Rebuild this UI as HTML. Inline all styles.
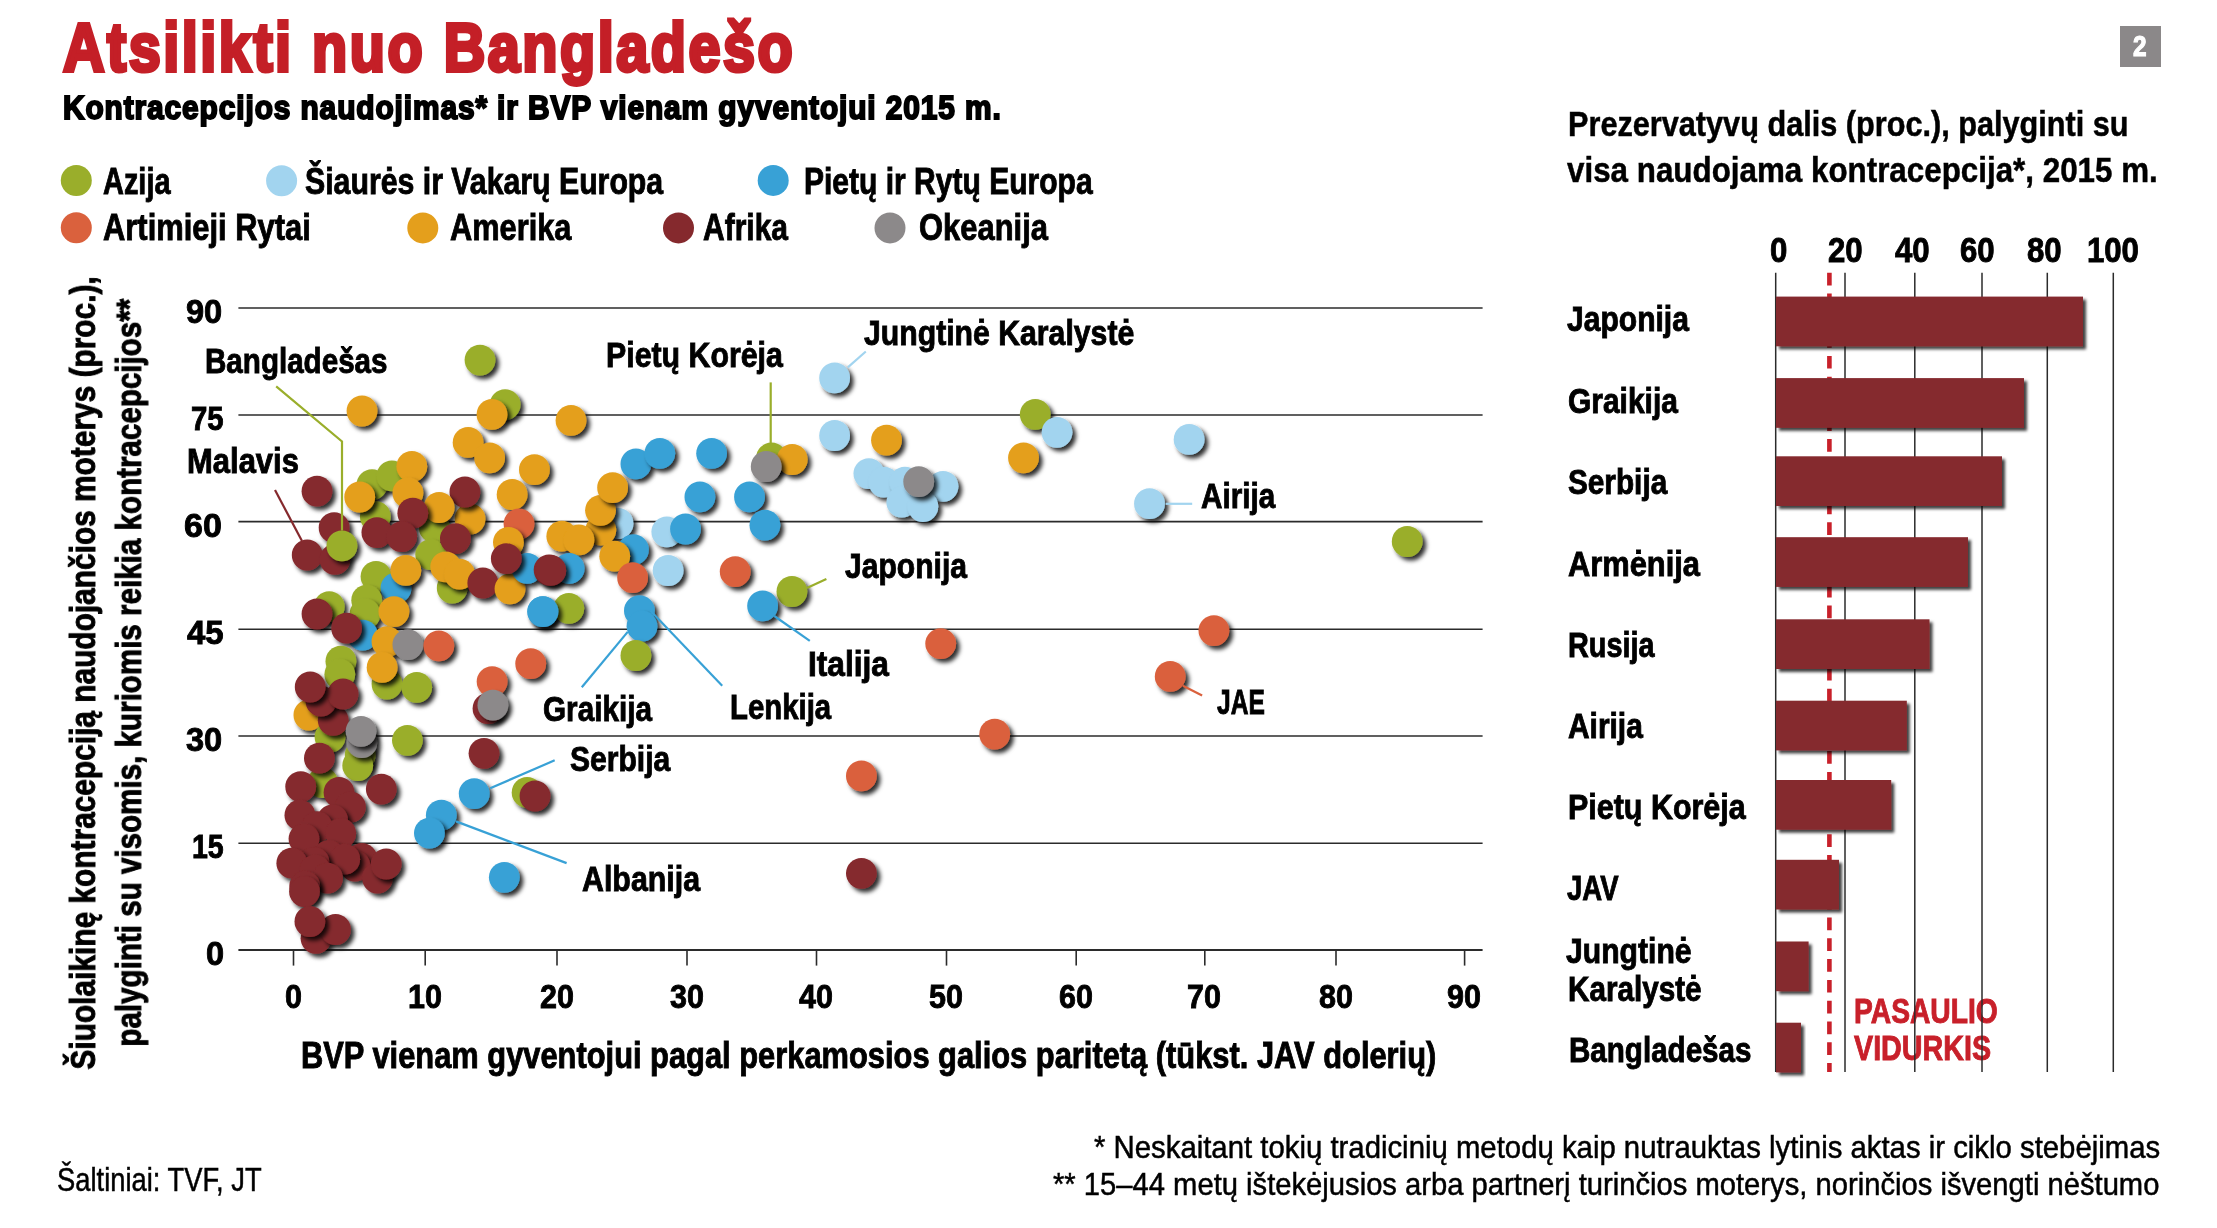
<!DOCTYPE html>
<html><head><meta charset="utf-8"><style>
html,body{margin:0;padding:0;background:#fff;}
body{width:2217px;height:1228px;position:relative;overflow:hidden;font-family:"Liberation Sans",sans-serif;}
.s{position:absolute;left:0;top:0;}
.t{position:absolute;white-space:nowrap;line-height:1;transform-origin:0 0;font-family:"Liberation Sans",sans-serif;font-weight:bold;}
</style></head><body>
<svg class="s" width="2217" height="1228"><defs><filter id="sh" x="-30%" y="-30%" width="170%" height="170%"><feDropShadow dx="3.6" dy="3.6" stdDeviation="2.2" flood-color="#000" flood-opacity="0.82"/></filter><filter id="bs" x="-10%" y="-30%" width="130%" height="170%"><feDropShadow dx="3" dy="3" stdDeviation="1.4" flood-color="#000" flood-opacity="0.75"/></filter></defs><line x1="238.4" y1="843.20" x2="1482.6" y2="843.20" stroke="#2b2b2b" stroke-width="1.6"/><line x1="238.4" y1="736.00" x2="1482.6" y2="736.00" stroke="#2b2b2b" stroke-width="1.6"/><line x1="238.4" y1="629.30" x2="1482.6" y2="629.30" stroke="#2b2b2b" stroke-width="1.6"/><line x1="238.4" y1="521.60" x2="1482.6" y2="521.60" stroke="#2b2b2b" stroke-width="1.6"/><line x1="238.4" y1="415.00" x2="1482.6" y2="415.00" stroke="#2b2b2b" stroke-width="1.6"/><line x1="238.4" y1="308.00" x2="1482.6" y2="308.00" stroke="#2b2b2b" stroke-width="1.6"/><line x1="238.4" y1="950" x2="1482.6" y2="950" stroke="#2b2b2b" stroke-width="1.8"/><line x1="293.50" y1="950" x2="293.50" y2="965.6" stroke="#2b2b2b" stroke-width="1.6"/><line x1="425.20" y1="950" x2="425.20" y2="965.6" stroke="#2b2b2b" stroke-width="1.6"/><line x1="557.00" y1="950" x2="557.00" y2="965.6" stroke="#2b2b2b" stroke-width="1.6"/><line x1="687.00" y1="950" x2="687.00" y2="965.6" stroke="#2b2b2b" stroke-width="1.6"/><line x1="816.50" y1="950" x2="816.50" y2="965.6" stroke="#2b2b2b" stroke-width="1.6"/><line x1="946.50" y1="950" x2="946.50" y2="965.6" stroke="#2b2b2b" stroke-width="1.6"/><line x1="1076.20" y1="950" x2="1076.20" y2="965.6" stroke="#2b2b2b" stroke-width="1.6"/><line x1="1204.80" y1="950" x2="1204.80" y2="965.6" stroke="#2b2b2b" stroke-width="1.6"/><line x1="1336.00" y1="950" x2="1336.00" y2="965.6" stroke="#2b2b2b" stroke-width="1.6"/><line x1="1464.60" y1="950" x2="1464.60" y2="965.6" stroke="#2b2b2b" stroke-width="1.6"/><circle cx="76.30" cy="180.50" r="15.5" fill="#9aae2b"/><circle cx="281.60" cy="180.80" r="15.5" fill="#a2d4ef"/><circle cx="773.20" cy="180.40" r="15.5" fill="#38a1d6"/><circle cx="76.30" cy="227.80" r="15.5" fill="#da613d"/><circle cx="422.80" cy="227.90" r="15.5" fill="#e49f1c"/><circle cx="678.50" cy="227.90" r="15.5" fill="#85292d"/><circle cx="890.00" cy="227.90" r="15.5" fill="#8c898a"/><circle cx="480.00" cy="360.10" r="15.4" fill="#9aae2b" filter="url(#sh)"/><circle cx="362.00" cy="411.00" r="15.4" fill="#e49f1c" filter="url(#sh)"/><circle cx="505.10" cy="404.60" r="15.4" fill="#9aae2b" filter="url(#sh)"/><circle cx="492.00" cy="414.40" r="15.4" fill="#e49f1c" filter="url(#sh)"/><circle cx="468.10" cy="442.40" r="15.4" fill="#e49f1c" filter="url(#sh)"/><circle cx="489.60" cy="457.80" r="15.4" fill="#e49f1c" filter="url(#sh)"/><circle cx="534.40" cy="469.70" r="15.4" fill="#e49f1c" filter="url(#sh)"/><circle cx="317.00" cy="491.20" r="15.4" fill="#85292d" filter="url(#sh)"/><circle cx="372.00" cy="484.70" r="15.4" fill="#9aae2b" filter="url(#sh)"/><circle cx="391.90" cy="475.80" r="15.4" fill="#9aae2b" filter="url(#sh)"/><circle cx="411.80" cy="466.50" r="15.4" fill="#e49f1c" filter="url(#sh)"/><circle cx="375.30" cy="516.50" r="15.4" fill="#9aae2b" filter="url(#sh)"/><circle cx="359.70" cy="497.00" r="15.4" fill="#e49f1c" filter="url(#sh)"/><circle cx="407.90" cy="492.90" r="15.4" fill="#e49f1c" filter="url(#sh)"/><circle cx="470.00" cy="519.00" r="15.4" fill="#e49f1c" filter="url(#sh)"/><circle cx="464.90" cy="492.00" r="15.4" fill="#85292d" filter="url(#sh)"/><circle cx="512.10" cy="494.50" r="15.4" fill="#e49f1c" filter="url(#sh)"/><circle cx="434.30" cy="527.70" r="15.4" fill="#9aae2b" filter="url(#sh)"/><circle cx="439.10" cy="507.50" r="15.4" fill="#e49f1c" filter="url(#sh)"/><circle cx="412.80" cy="513.20" r="15.4" fill="#85292d" filter="url(#sh)"/><circle cx="519.00" cy="523.80" r="15.4" fill="#da613d" filter="url(#sh)"/><circle cx="571.00" cy="420.40" r="15.4" fill="#e49f1c" filter="url(#sh)"/><circle cx="635.90" cy="463.90" r="15.4" fill="#38a1d6" filter="url(#sh)"/><circle cx="659.80" cy="453.30" r="15.4" fill="#38a1d6" filter="url(#sh)"/><circle cx="711.60" cy="453.30" r="15.4" fill="#38a1d6" filter="url(#sh)"/><circle cx="771.50" cy="458.00" r="15.4" fill="#9aae2b" filter="url(#sh)"/><circle cx="792.20" cy="459.50" r="15.4" fill="#e49f1c" filter="url(#sh)"/><circle cx="766.20" cy="466.50" r="15.4" fill="#8c898a" filter="url(#sh)"/><circle cx="618.00" cy="523.50" r="15.4" fill="#a2d4ef" filter="url(#sh)"/><circle cx="600.80" cy="530.10" r="15.4" fill="#e49f1c" filter="url(#sh)"/><circle cx="600.50" cy="510.30" r="15.4" fill="#e49f1c" filter="url(#sh)"/><circle cx="612.60" cy="487.70" r="15.4" fill="#e49f1c" filter="url(#sh)"/><circle cx="699.90" cy="496.90" r="15.4" fill="#38a1d6" filter="url(#sh)"/><circle cx="749.50" cy="496.90" r="15.4" fill="#38a1d6" filter="url(#sh)"/><circle cx="334.10" cy="527.70" r="15.4" fill="#85292d" filter="url(#sh)"/><circle cx="307.20" cy="555.00" r="15.4" fill="#85292d" filter="url(#sh)"/><circle cx="334.90" cy="559.40" r="15.4" fill="#85292d" filter="url(#sh)"/><circle cx="341.90" cy="545.90" r="15.4" fill="#9aae2b" filter="url(#sh)"/><circle cx="376.90" cy="532.60" r="15.4" fill="#85292d" filter="url(#sh)"/><circle cx="401.70" cy="536.60" r="15.4" fill="#85292d" filter="url(#sh)"/><circle cx="430.70" cy="554.60" r="15.4" fill="#9aae2b" filter="url(#sh)"/><circle cx="455.40" cy="538.60" r="15.4" fill="#85292d" filter="url(#sh)"/><circle cx="452.20" cy="588.00" r="15.4" fill="#9aae2b" filter="url(#sh)"/><circle cx="445.70" cy="566.80" r="15.4" fill="#e49f1c" filter="url(#sh)"/><circle cx="459.50" cy="574.10" r="15.4" fill="#e49f1c" filter="url(#sh)"/><circle cx="482.80" cy="583.00" r="15.4" fill="#85292d" filter="url(#sh)"/><circle cx="510.00" cy="588.80" r="15.4" fill="#e49f1c" filter="url(#sh)"/><circle cx="508.40" cy="542.30" r="15.4" fill="#e49f1c" filter="url(#sh)"/><circle cx="527.10" cy="568.40" r="15.4" fill="#38a1d6" filter="url(#sh)"/><circle cx="506.30" cy="558.60" r="15.4" fill="#85292d" filter="url(#sh)"/><circle cx="549.10" cy="570.00" r="15.4" fill="#85292d" filter="url(#sh)"/><circle cx="542.60" cy="611.60" r="15.4" fill="#38a1d6" filter="url(#sh)"/><circle cx="376.00" cy="576.50" r="15.4" fill="#9aae2b" filter="url(#sh)"/><circle cx="396.00" cy="588.00" r="15.4" fill="#38a1d6" filter="url(#sh)"/><circle cx="405.80" cy="570.40" r="15.4" fill="#e49f1c" filter="url(#sh)"/><circle cx="366.70" cy="600.20" r="15.4" fill="#9aae2b" filter="url(#sh)"/><circle cx="365.00" cy="614.00" r="15.4" fill="#9aae2b" filter="url(#sh)"/><circle cx="393.90" cy="611.60" r="15.4" fill="#e49f1c" filter="url(#sh)"/><circle cx="329.20" cy="606.70" r="15.4" fill="#9aae2b" filter="url(#sh)"/><circle cx="317.00" cy="614.00" r="15.4" fill="#85292d" filter="url(#sh)"/><circle cx="362.60" cy="635.20" r="15.4" fill="#38a1d6" filter="url(#sh)"/><circle cx="346.60" cy="628.20" r="15.4" fill="#85292d" filter="url(#sh)"/><circle cx="387.00" cy="641.70" r="15.4" fill="#e49f1c" filter="url(#sh)"/><circle cx="407.90" cy="644.60" r="15.4" fill="#8c898a" filter="url(#sh)"/><circle cx="438.80" cy="645.80" r="15.4" fill="#da613d" filter="url(#sh)"/><circle cx="530.70" cy="663.70" r="15.4" fill="#da613d" filter="url(#sh)"/><circle cx="492.10" cy="681.60" r="15.4" fill="#da613d" filter="url(#sh)"/><circle cx="488.00" cy="708.50" r="15.4" fill="#85292d" filter="url(#sh)"/><circle cx="492.90" cy="705.20" r="15.4" fill="#8c898a" filter="url(#sh)"/><circle cx="340.90" cy="661.20" r="15.4" fill="#9aae2b" filter="url(#sh)"/><circle cx="339.80" cy="674.30" r="15.4" fill="#9aae2b" filter="url(#sh)"/><circle cx="387.00" cy="684.00" r="15.4" fill="#9aae2b" filter="url(#sh)"/><circle cx="382.10" cy="667.40" r="15.4" fill="#e49f1c" filter="url(#sh)"/><circle cx="416.70" cy="687.30" r="15.4" fill="#9aae2b" filter="url(#sh)"/><circle cx="666.80" cy="531.80" r="15.4" fill="#a2d4ef" filter="url(#sh)"/><circle cx="685.50" cy="529.00" r="15.4" fill="#38a1d6" filter="url(#sh)"/><circle cx="764.90" cy="525.20" r="15.4" fill="#38a1d6" filter="url(#sh)"/><circle cx="561.80" cy="536.20" r="15.4" fill="#e49f1c" filter="url(#sh)"/><circle cx="578.90" cy="539.90" r="15.4" fill="#e49f1c" filter="url(#sh)"/><circle cx="633.40" cy="549.70" r="15.4" fill="#38a1d6" filter="url(#sh)"/><circle cx="614.70" cy="556.20" r="15.4" fill="#e49f1c" filter="url(#sh)"/><circle cx="569.10" cy="568.40" r="15.4" fill="#38a1d6" filter="url(#sh)"/><circle cx="550.80" cy="570.40" r="15.4" fill="#85292d" filter="url(#sh)"/><circle cx="632.60" cy="577.70" r="15.4" fill="#da613d" filter="url(#sh)"/><circle cx="668.10" cy="570.50" r="15.4" fill="#a2d4ef" filter="url(#sh)"/><circle cx="735.20" cy="571.70" r="15.4" fill="#da613d" filter="url(#sh)"/><circle cx="791.90" cy="591.50" r="15.4" fill="#9aae2b" filter="url(#sh)"/><circle cx="762.60" cy="605.90" r="15.4" fill="#38a1d6" filter="url(#sh)"/><circle cx="568.80" cy="608.30" r="15.4" fill="#9aae2b" filter="url(#sh)"/><circle cx="543.00" cy="611.60" r="15.4" fill="#38a1d6" filter="url(#sh)"/><circle cx="639.40" cy="610.70" r="15.4" fill="#38a1d6" filter="url(#sh)"/><circle cx="642.00" cy="626.20" r="15.4" fill="#38a1d6" filter="url(#sh)"/><circle cx="635.90" cy="655.50" r="15.4" fill="#9aae2b" filter="url(#sh)"/><circle cx="308.90" cy="715.00" r="15.4" fill="#e49f1c" filter="url(#sh)"/><circle cx="330.00" cy="737.00" r="15.4" fill="#9aae2b" filter="url(#sh)"/><circle cx="333.20" cy="720.30" r="15.4" fill="#85292d" filter="url(#sh)"/><circle cx="321.00" cy="701.20" r="15.4" fill="#85292d" filter="url(#sh)"/><circle cx="343.00" cy="694.00" r="15.4" fill="#85292d" filter="url(#sh)"/><circle cx="310.20" cy="687.00" r="15.4" fill="#85292d" filter="url(#sh)"/><circle cx="360.20" cy="754.90" r="15.4" fill="#9aae2b" filter="url(#sh)"/><circle cx="357.70" cy="765.50" r="15.4" fill="#9aae2b" filter="url(#sh)"/><circle cx="361.80" cy="742.70" r="15.4" fill="#8c898a" filter="url(#sh)"/><circle cx="361.00" cy="731.30" r="15.4" fill="#8c898a" filter="url(#sh)"/><circle cx="322.70" cy="782.60" r="15.4" fill="#9aae2b" filter="url(#sh)"/><circle cx="319.40" cy="758.20" r="15.4" fill="#85292d" filter="url(#sh)"/><circle cx="407.40" cy="740.30" r="15.4" fill="#9aae2b" filter="url(#sh)"/><circle cx="300.70" cy="786.70" r="15.4" fill="#85292d" filter="url(#sh)"/><circle cx="339.00" cy="792.40" r="15.4" fill="#85292d" filter="url(#sh)"/><circle cx="350.40" cy="807.00" r="15.4" fill="#85292d" filter="url(#sh)"/><circle cx="381.30" cy="789.10" r="15.4" fill="#85292d" filter="url(#sh)"/><circle cx="299.90" cy="815.20" r="15.4" fill="#85292d" filter="url(#sh)"/><circle cx="332.50" cy="820.00" r="15.4" fill="#85292d" filter="url(#sh)"/><circle cx="317.00" cy="826.60" r="15.4" fill="#85292d" filter="url(#sh)"/><circle cx="340.70" cy="833.50" r="15.4" fill="#85292d" filter="url(#sh)"/><circle cx="304.00" cy="838.80" r="15.4" fill="#85292d" filter="url(#sh)"/><circle cx="328.70" cy="855.30" r="15.4" fill="#85292d" filter="url(#sh)"/><circle cx="361.80" cy="858.30" r="15.4" fill="#85292d" filter="url(#sh)"/><circle cx="355.00" cy="866.00" r="15.4" fill="#85292d" filter="url(#sh)"/><circle cx="344.70" cy="859.20" r="15.4" fill="#85292d" filter="url(#sh)"/><circle cx="314.00" cy="862.50" r="15.4" fill="#85292d" filter="url(#sh)"/><circle cx="291.80" cy="863.20" r="15.4" fill="#85292d" filter="url(#sh)"/><circle cx="377.50" cy="878.00" r="15.4" fill="#85292d" filter="url(#sh)"/><circle cx="386.20" cy="864.00" r="15.4" fill="#85292d" filter="url(#sh)"/><circle cx="315.00" cy="870.20" r="15.4" fill="#85292d" filter="url(#sh)"/><circle cx="327.50" cy="878.20" r="15.4" fill="#85292d" filter="url(#sh)"/><circle cx="304.70" cy="886.10" r="15.4" fill="#85292d" filter="url(#sh)"/><circle cx="304.50" cy="891.50" r="15.4" fill="#85292d" filter="url(#sh)"/><circle cx="316.00" cy="938.30" r="15.4" fill="#85292d" filter="url(#sh)"/><circle cx="335.50" cy="929.50" r="15.4" fill="#85292d" filter="url(#sh)"/><circle cx="309.90" cy="921.50" r="15.4" fill="#85292d" filter="url(#sh)"/><circle cx="484.00" cy="753.30" r="15.4" fill="#85292d" filter="url(#sh)"/><circle cx="474.20" cy="793.70" r="15.4" fill="#38a1d6" filter="url(#sh)"/><circle cx="441.30" cy="815.20" r="15.4" fill="#38a1d6" filter="url(#sh)"/><circle cx="429.40" cy="833.10" r="15.4" fill="#38a1d6" filter="url(#sh)"/><circle cx="527.10" cy="792.40" r="15.4" fill="#9aae2b" filter="url(#sh)"/><circle cx="535.00" cy="796.00" r="15.4" fill="#85292d" filter="url(#sh)"/><circle cx="504.30" cy="877.30" r="15.4" fill="#38a1d6" filter="url(#sh)"/><circle cx="834.60" cy="377.90" r="15.4" fill="#a2d4ef" filter="url(#sh)"/><circle cx="834.60" cy="435.50" r="15.4" fill="#a2d4ef" filter="url(#sh)"/><circle cx="886.50" cy="440.20" r="15.4" fill="#e49f1c" filter="url(#sh)"/><circle cx="1035.20" cy="414.30" r="15.4" fill="#9aae2b" filter="url(#sh)"/><circle cx="1057.00" cy="432.30" r="15.4" fill="#a2d4ef" filter="url(#sh)"/><circle cx="1023.50" cy="457.80" r="15.4" fill="#e49f1c" filter="url(#sh)"/><circle cx="868.90" cy="473.60" r="15.4" fill="#a2d4ef" filter="url(#sh)"/><circle cx="883.80" cy="482.10" r="15.4" fill="#a2d4ef" filter="url(#sh)"/><circle cx="943.00" cy="486.30" r="15.4" fill="#a2d4ef" filter="url(#sh)"/><circle cx="904.90" cy="482.10" r="15.4" fill="#a2d4ef" filter="url(#sh)"/><circle cx="901.80" cy="502.20" r="15.4" fill="#a2d4ef" filter="url(#sh)"/><circle cx="922.90" cy="506.50" r="15.4" fill="#a2d4ef" filter="url(#sh)"/><circle cx="918.70" cy="481.70" r="15.4" fill="#8c898a" filter="url(#sh)"/><circle cx="1149.50" cy="503.70" r="15.4" fill="#a2d4ef" filter="url(#sh)"/><circle cx="1189.10" cy="439.40" r="15.4" fill="#a2d4ef" filter="url(#sh)"/><circle cx="1407.20" cy="541.50" r="15.4" fill="#9aae2b" filter="url(#sh)"/><circle cx="1213.90" cy="630.60" r="15.4" fill="#da613d" filter="url(#sh)"/><circle cx="1170.20" cy="676.40" r="15.4" fill="#da613d" filter="url(#sh)"/><circle cx="940.70" cy="643.60" r="15.4" fill="#da613d" filter="url(#sh)"/><circle cx="994.70" cy="734.20" r="15.4" fill="#da613d" filter="url(#sh)"/><circle cx="861.40" cy="775.90" r="15.4" fill="#da613d" filter="url(#sh)"/><circle cx="861.40" cy="873.30" r="15.4" fill="#85292d" filter="url(#sh)"/><polyline points="276.2,386.3 342.0,441.4 342.0,530.5" fill="none" stroke="#9aae2b" stroke-width="2.2"/><polyline points="275.0,490.0 302.0,541.0" fill="none" stroke="#85292d" stroke-width="2.2"/><polyline points="770.7,382.4 770.7,443.0" fill="none" stroke="#9aae2b" stroke-width="2.2"/><polyline points="847.8,367.3 865.8,351.5" fill="none" stroke="#a2d4ef" stroke-width="2.2"/><polyline points="1165.6,503.8 1192.2,503.8" fill="none" stroke="#a2d4ef" stroke-width="2.2"/><polyline points="806.9,588.0 826.4,579.0" fill="none" stroke="#9aae2b" stroke-width="2.2"/><polyline points="774.3,616.0 809.8,640.9" fill="none" stroke="#38a1d6" stroke-width="2.2"/><polyline points="627.7,631.9 581.8,687.3" fill="none" stroke="#38a1d6" stroke-width="2.2"/><polyline points="650.5,610.7 722.2,685.7" fill="none" stroke="#38a1d6" stroke-width="2.2"/><polyline points="1182.9,685.7 1202.1,695.6" fill="none" stroke="#da613d" stroke-width="2.2"/><polyline points="490.2,788.3 554.7,760.3" fill="none" stroke="#38a1d6" stroke-width="2.2"/><polyline points="456.0,821.4 566.6,863.1" fill="none" stroke="#38a1d6" stroke-width="2.2"/></svg>
<div class="t" style="left:62.97px;top:14.27px;font-size:68.90px;transform:scaleX(0.8360);color:#c41f27;font-weight:bold;-webkit-text-stroke:4.00px #c41f27;letter-spacing:3.00px">Atsilikti nuo Bangladešo</div>
<div class="t" style="left:62.89px;top:90.99px;font-size:33.43px;transform:scaleX(0.8937);color:#000;font-weight:bold;-webkit-text-stroke:2.00px #000;letter-spacing:1.00px">Kontracepcijos naudojimas* ir BVP vienam gyventojui 2015 m.</div>
<div class="t" style="left:103.25px;top:164.21px;font-size:36.77px;transform:scaleX(0.7867);color:#000;font-weight:bold;-webkit-text-stroke:0.90px #000">Azija</div>
<div class="t" style="left:305.17px;top:163.91px;font-size:36.77px;transform:scaleX(0.8229);color:#000;font-weight:bold;-webkit-text-stroke:0.90px #000">Šiaurės ir Vakarų Europa</div>
<div class="t" style="left:803.77px;top:163.91px;font-size:36.77px;transform:scaleX(0.8166);color:#000;font-weight:bold;-webkit-text-stroke:0.90px #000">Pietų ir Rytų Europa</div>
<div class="t" style="left:103.38px;top:209.91px;font-size:36.77px;transform:scaleX(0.8409);color:#000;font-weight:bold;-webkit-text-stroke:0.90px #000">Artimieji Rytai</div>
<div class="t" style="left:450.28px;top:209.91px;font-size:36.77px;transform:scaleX(0.8369);color:#000;font-weight:bold;-webkit-text-stroke:0.90px #000">Amerika</div>
<div class="t" style="left:702.67px;top:210.01px;font-size:36.77px;transform:scaleX(0.8155);color:#000;font-weight:bold;-webkit-text-stroke:0.90px #000">Afrika</div>
<div class="t" style="left:919.48px;top:210.01px;font-size:36.77px;transform:scaleX(0.8412);color:#000;font-weight:bold;-webkit-text-stroke:0.90px #000">Okeanija</div>
<div class="t" style="left:205.94px;top:937.02px;font-size:33.58px;transform:scaleX(0.9675);color:#000;font-weight:bold;-webkit-text-stroke:0.90px #000">0</div>
<div class="t" style="left:191.68px;top:830.22px;font-size:33.58px;transform:scaleX(0.8496);color:#000;font-weight:bold;-webkit-text-stroke:0.90px #000">15</div>
<div class="t" style="left:186.04px;top:723.02px;font-size:33.58px;transform:scaleX(0.9699);color:#000;font-weight:bold;-webkit-text-stroke:0.90px #000">30</div>
<div class="t" style="left:187.24px;top:616.32px;font-size:33.58px;transform:scaleX(0.9829);color:#000;font-weight:bold;-webkit-text-stroke:0.90px #000">45</div>
<div class="t" style="left:184.46px;top:508.62px;font-size:33.58px;transform:scaleX(1.0117);color:#000;font-weight:bold;-webkit-text-stroke:0.90px #000">60</div>
<div class="t" style="left:190.99px;top:402.02px;font-size:33.58px;transform:scaleX(0.8731);color:#000;font-weight:bold;-webkit-text-stroke:0.90px #000">75</div>
<div class="t" style="left:186.04px;top:295.02px;font-size:33.58px;transform:scaleX(0.9699);color:#000;font-weight:bold;-webkit-text-stroke:0.90px #000">90</div>
<div class="t" style="left:284.54px;top:980.08px;font-size:33.87px;transform:scaleX(0.9000);color:#000;font-weight:bold;-webkit-text-stroke:0.90px #000">0</div>
<div class="t" style="left:407.75px;top:980.08px;font-size:33.87px;transform:scaleX(0.9000);color:#000;font-weight:bold;-webkit-text-stroke:0.90px #000">10</div>
<div class="t" style="left:539.55px;top:980.08px;font-size:33.87px;transform:scaleX(0.9000);color:#000;font-weight:bold;-webkit-text-stroke:0.90px #000">20</div>
<div class="t" style="left:669.55px;top:980.08px;font-size:33.87px;transform:scaleX(0.9000);color:#000;font-weight:bold;-webkit-text-stroke:0.90px #000">30</div>
<div class="t" style="left:799.05px;top:980.08px;font-size:33.87px;transform:scaleX(0.9000);color:#000;font-weight:bold;-webkit-text-stroke:0.90px #000">40</div>
<div class="t" style="left:929.05px;top:980.08px;font-size:33.87px;transform:scaleX(0.9000);color:#000;font-weight:bold;-webkit-text-stroke:0.90px #000">50</div>
<div class="t" style="left:1058.75px;top:980.08px;font-size:33.87px;transform:scaleX(0.9000);color:#000;font-weight:bold;-webkit-text-stroke:0.90px #000">60</div>
<div class="t" style="left:1187.35px;top:980.08px;font-size:33.87px;transform:scaleX(0.9000);color:#000;font-weight:bold;-webkit-text-stroke:0.90px #000">70</div>
<div class="t" style="left:1318.55px;top:980.08px;font-size:33.87px;transform:scaleX(0.9000);color:#000;font-weight:bold;-webkit-text-stroke:0.90px #000">80</div>
<div class="t" style="left:1447.15px;top:980.08px;font-size:33.87px;transform:scaleX(0.9000);color:#000;font-weight:bold;-webkit-text-stroke:0.90px #000">90</div>
<div class="t" style="left:301.09px;top:1038.13px;font-size:36.05px;transform:scaleX(0.8557);color:#000;font-weight:bold;-webkit-text-stroke:0.90px #000">BVP vienam gyventojui pagal perkamosios galios paritetą (tūkst. JAV dolerių)</div>
<div class="t" style="left:0;top:0;font-size:35.03px;transform:translate(94.65px,1069.52px) rotate(-90deg) scaleX(0.8529) translate(0,-29.66px);color:#000;will-change:transform;-webkit-text-stroke:0.90px #000">Šiuolaikinę kontracepciją naudojančios moterys (proc.),</div>
<div class="t" style="left:0;top:0;font-size:35.03px;transform:translate(140.55px,1046.62px) rotate(-90deg) scaleX(0.8447) translate(0,-29.66px);color:#000;will-change:transform;-webkit-text-stroke:0.90px #000">palyginti su visomis, kuriomis reikia kontracepcijos**</div>
<div class="t" style="left:204.88px;top:342.54px;font-size:35.32px;transform:scaleX(0.8377);color:#000;font-weight:bold;-webkit-text-stroke:0.90px #000">Bangladešas</div>
<div class="t" style="left:186.69px;top:442.84px;font-size:35.32px;transform:scaleX(0.8771);color:#000;font-weight:bold;-webkit-text-stroke:0.90px #000">Malavis</div>
<div class="t" style="left:605.79px;top:337.34px;font-size:35.32px;transform:scaleX(0.8584);color:#000;font-weight:bold;-webkit-text-stroke:0.90px #000">Pietų Korėja</div>
<div class="t" style="left:863.98px;top:314.74px;font-size:35.32px;transform:scaleX(0.8554);color:#000;font-weight:bold;-webkit-text-stroke:0.90px #000">Jungtinė Karalystė</div>
<div class="t" style="left:1200.98px;top:477.74px;font-size:35.32px;transform:scaleX(0.8394);color:#000;font-weight:bold;-webkit-text-stroke:0.90px #000">Airija</div>
<div class="t" style="left:845.38px;top:547.84px;font-size:35.32px;transform:scaleX(0.8519);color:#000;font-weight:bold;-webkit-text-stroke:0.90px #000">Japonija</div>
<div class="t" style="left:808.40px;top:646.24px;font-size:35.32px;transform:scaleX(0.8971);color:#000;font-weight:bold;-webkit-text-stroke:0.90px #000">Italija</div>
<div class="t" style="left:542.58px;top:691.24px;font-size:35.32px;transform:scaleX(0.8409);color:#000;font-weight:bold;-webkit-text-stroke:0.90px #000">Graikija</div>
<div class="t" style="left:730.47px;top:689.44px;font-size:35.32px;transform:scaleX(0.8312);color:#000;font-weight:bold;-webkit-text-stroke:0.90px #000">Lenkija</div>
<div class="t" style="left:1217.31px;top:684.44px;font-size:35.32px;transform:scaleX(0.6969);color:#000;font-weight:bold;-webkit-text-stroke:0.90px #000">JAE</div>
<div class="t" style="left:569.88px;top:741.04px;font-size:35.32px;transform:scaleX(0.8516);color:#000;font-weight:bold;-webkit-text-stroke:0.90px #000">Serbija</div>
<div class="t" style="left:581.79px;top:861.24px;font-size:35.32px;transform:scaleX(0.8594);color:#000;font-weight:bold;-webkit-text-stroke:0.90px #000">Albanija</div>
<div class="t" style="left:1568.12px;top:106.54px;font-size:34.74px;transform:scaleX(0.8827);color:#000;font-weight:bold;-webkit-text-stroke:0.50px #000">Prezervatyvų dalis (proc.), palyginti su</div>
<div class="t" style="left:1566.73px;top:152.84px;font-size:34.74px;transform:scaleX(0.9027);color:#000;font-weight:bold;-webkit-text-stroke:0.50px #000">visa naudojama kontracepcija*, 2015 m.</div>
<div class="t" style="left:1770.06px;top:232.76px;font-size:34.59px;transform:scaleX(0.9000);color:#000;font-weight:bold;-webkit-text-stroke:0.90px #000">0</div>
<div class="t" style="left:1828.18px;top:232.76px;font-size:34.59px;transform:scaleX(0.9000);color:#000;font-weight:bold;-webkit-text-stroke:0.90px #000">20</div>
<div class="t" style="left:1894.68px;top:232.76px;font-size:34.59px;transform:scaleX(0.9000);color:#000;font-weight:bold;-webkit-text-stroke:0.90px #000">40</div>
<div class="t" style="left:1959.98px;top:232.76px;font-size:34.59px;transform:scaleX(0.9000);color:#000;font-weight:bold;-webkit-text-stroke:0.90px #000">60</div>
<div class="t" style="left:2026.68px;top:232.76px;font-size:34.59px;transform:scaleX(0.9000);color:#000;font-weight:bold;-webkit-text-stroke:0.90px #000">80</div>
<div class="t" style="left:2086.74px;top:232.76px;font-size:34.59px;transform:scaleX(0.9000);color:#000;font-weight:bold;-webkit-text-stroke:0.90px #000">100</div>
<div class="t" style="left:1566.99px;top:301.29px;font-size:35.03px;transform:scaleX(0.8582);color:#000;font-weight:bold;-webkit-text-stroke:0.90px #000">Japonija</div>
<div class="t" style="left:1568.48px;top:382.59px;font-size:35.03px;transform:scaleX(0.8555);color:#000;font-weight:bold;-webkit-text-stroke:0.90px #000">Graikija</div>
<div class="t" style="left:1568.48px;top:463.69px;font-size:35.03px;transform:scaleX(0.8493);color:#000;font-weight:bold;-webkit-text-stroke:0.90px #000">Serbija</div>
<div class="t" style="left:1567.60px;top:545.79px;font-size:35.03px;transform:scaleX(0.8808);color:#000;font-weight:bold;-webkit-text-stroke:0.90px #000">Armėnija</div>
<div class="t" style="left:1568.47px;top:626.89px;font-size:35.03px;transform:scaleX(0.8235);color:#000;font-weight:bold;-webkit-text-stroke:0.90px #000">Rusija</div>
<div class="t" style="left:1567.58px;top:707.79px;font-size:35.03px;transform:scaleX(0.8542);color:#000;font-weight:bold;-webkit-text-stroke:0.90px #000">Airija</div>
<div class="t" style="left:1568.49px;top:788.99px;font-size:35.03px;transform:scaleX(0.8698);color:#000;font-weight:bold;-webkit-text-stroke:0.90px #000">Pietų Korėja</div>
<div class="t" style="left:1566.75px;top:870.49px;font-size:35.03px;transform:scaleX(0.7861);color:#000;font-weight:bold;-webkit-text-stroke:0.90px #000">JAV</div>
<div class="t" style="left:1566.09px;top:932.79px;font-size:35.03px;transform:scaleX(0.8605);color:#000;font-weight:bold;-webkit-text-stroke:0.90px #000">Jungtinė</div>
<div class="t" style="left:1567.98px;top:971.29px;font-size:35.03px;transform:scaleX(0.8473);color:#000;font-weight:bold;-webkit-text-stroke:0.90px #000">Karalystė</div>
<div class="t" style="left:1569.08px;top:1031.89px;font-size:35.03px;transform:scaleX(0.8446);color:#000;font-weight:bold;-webkit-text-stroke:0.90px #000">Bangladešas</div>
<div class="t" style="left:1094.23px;top:1131.08px;font-size:31.98px;transform:scaleX(0.9175);color:#000;font-weight:normal;-webkit-text-stroke:0.50px #000">* Neskaitant tokių tradicinių metodų kaip nutrauktas lytinis aktas ir ciklo stebėjimas</div>
<div class="t" style="left:1053.23px;top:1167.98px;font-size:31.98px;transform:scaleX(0.9130);color:#000;font-weight:normal;-webkit-text-stroke:0.50px #000">** 15–44 metų ištekėjusios arba partnerį turinčios moterys, norinčios išvengti nėštumo</div>
<div class="t" style="left:57.21px;top:1164.38px;font-size:32.56px;transform:scaleX(0.8403);color:#000;font-weight:normal;-webkit-text-stroke:0.50px #000">Šaltiniai: TVF, JT</div>
<div class="t" style="left:1854.06px;top:993.19px;font-size:35.03px;transform:scaleX(0.8065);color:#c8202a;font-weight:bold;-webkit-text-stroke:0.90px #c8202a">PASAULIO</div>
<div class="t" style="left:1854.07px;top:1030.49px;font-size:35.03px;transform:scaleX(0.8196);color:#c8202a;font-weight:bold;-webkit-text-stroke:0.90px #c8202a">VIDURKIS</div>
<svg class="s" width="2217" height="1228"><line x1="1775.70" y1="272.7" x2="1775.70" y2="1072" stroke="#2b2b2b" stroke-width="1.5"/><line x1="1845.00" y1="272.7" x2="1845.00" y2="1072" stroke="#2b2b2b" stroke-width="1.5"/><line x1="1914.80" y1="272.7" x2="1914.80" y2="1072" stroke="#2b2b2b" stroke-width="1.5"/><line x1="1982.00" y1="272.7" x2="1982.00" y2="1072" stroke="#2b2b2b" stroke-width="1.5"/><line x1="2047.30" y1="272.7" x2="2047.30" y2="1072" stroke="#2b2b2b" stroke-width="1.5"/><line x1="2113.30" y1="272.7" x2="2113.30" y2="1072" stroke="#2b2b2b" stroke-width="1.5"/><line x1="1829.4" y1="272.7" x2="1829.4" y2="1072" stroke="#c8202a" stroke-width="4.6" stroke-dasharray="12.7 8.1"/><rect x="1776" y="296.60" width="307.00" height="49.7" fill="#85292d" filter="url(#bs)"/><rect x="1776" y="378.10" width="248.00" height="49.7" fill="#85292d" filter="url(#bs)"/><rect x="1776" y="456.30" width="226.00" height="49.7" fill="#85292d" filter="url(#bs)"/><rect x="1776" y="537.20" width="192.00" height="49.7" fill="#85292d" filter="url(#bs)"/><rect x="1776" y="619.30" width="153.50" height="49.7" fill="#85292d" filter="url(#bs)"/><rect x="1776" y="700.70" width="130.80" height="49.7" fill="#85292d" filter="url(#bs)"/><rect x="1776" y="780.00" width="115.20" height="49.7" fill="#85292d" filter="url(#bs)"/><rect x="1776" y="859.80" width="63.00" height="49.7" fill="#85292d" filter="url(#bs)"/><rect x="1776" y="941.50" width="32.60" height="49.7" fill="#85292d" filter="url(#bs)"/><rect x="1776" y="1022.70" width="25.00" height="49.7" fill="#85292d" filter="url(#bs)"/><rect x="2120" y="26" width="41" height="41" fill="#8b8889"/></svg>
<div class="t" style="left:2133.08px;top:31.30px;font-size:30.23px;transform:scaleX(0.8065);color:#fff;font-weight:bold;-webkit-text-stroke:1.20px #fff">2</div>
</body></html>
